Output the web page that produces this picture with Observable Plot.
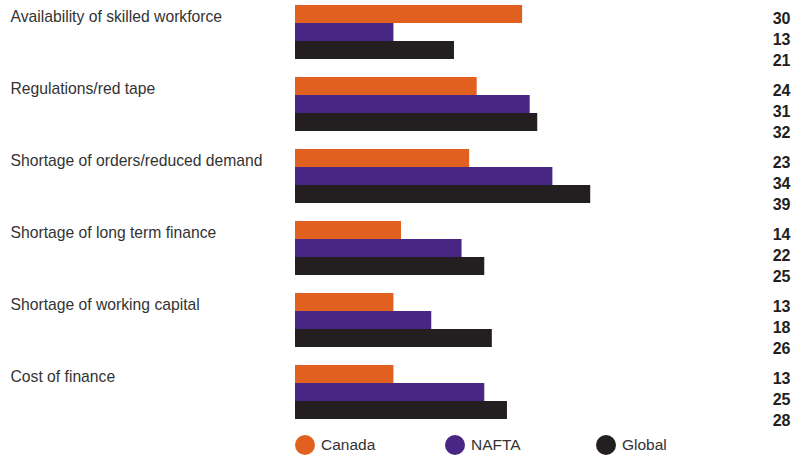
<!DOCTYPE html>
<html><head><meta charset="utf-8">
<script src="https://cdn.jsdelivr.net/npm/d3@7"></script>
<script src="https://cdn.jsdelivr.net/npm/@observablehq/plot@0.6"></script>
<style>
body{margin:0;background:#fff;font-family:"Liberation Sans",Arial,sans-serif;}
#legend{position:relative;height:27px;width:807px;}
.sw{position:absolute;width:20px;height:20px;border-radius:50%;top:3px;}
.lt{position:absolute;top:2px;font-size:15.5px;color:#333;line-height:22px;}
</style></head><body>
<div id="chart"></div>
<div id="legend"></div>
<script>
const categories = ["Availability of skilled workforce","Regulations/red tape","Shortage of orders/reduced demand","Shortage of long term finance","Shortage of working capital","Cost of finance"];
const series = ["Canada","NAFTA","Global"];
const canada = [30,24,23,14,13,13];
const nafta = [13,31,34,22,18,25];
const global = [21,32,39,25,26,28];
const colors = ["#E2601F","#482683","#231F20"];

const data = [];
categories.forEach((c,i)=>{
  data.push({category:c, series:"Canada", value:canada[i]});
  data.push({category:c, series:"NAFTA", value:nafta[i]});
  data.push({category:c, series:"Global", value:global[i]});
});
const catData = categories.map(c=>({category:c}));
const labelDy = {Canada:8, NAFTA:29, Global:50};
const font = '"Liberation Sans",Arial,sans-serif';

const chart = Plot.plot({
  width: 807, height: 432,
  marginLeft: 295, marginRight: 17, marginTop: 4, marginBottom: 13,
  style: {fontFamily: font, background: "#fff"},
  x: {domain: [0, 495/7.57], axis: null},
  fy: {domain: categories, axis: null, paddingInner: 17/72, paddingOuter: 0},
  y: {domain: series, axis: null, padding: 0},
  color: {domain: series, range: colors},
  marks: [
    Plot.barX(data, {fy:"category", y:"series", x:"value", fill:"series"}),
    Plot.text(catData, {fy:"category", text:"category", frameAnchor:"top-left", dx:-285, dy:6, textAnchor:"start", lineAnchor:"top", fontSize:15.7, fill:"#333"}),
    ...series.map(s => Plot.text(data.filter(d=>d.series===s), {fy:"category", text:d=>String(d.value), frameAnchor:"top-right", textAnchor:"end", lineAnchor:"top", dy:labelDy[s], fontSize:16, fontWeight:"bold", fill:"#231F20"}))
  ]
});
document.getElementById("chart").appendChild(chart);

const leg = document.getElementById("legend");
const lx = [295, 445, 596];
series.forEach((s,i)=>{
  const c = document.createElement("div"); c.className="sw"; c.style.left=lx[i]+"px"; c.style.background=colors[i]; leg.appendChild(c);
  const t = document.createElement("div"); t.className="lt"; t.style.left=(lx[i]+26)+"px"; t.textContent=s; leg.appendChild(t);
});
</script></body></html>
